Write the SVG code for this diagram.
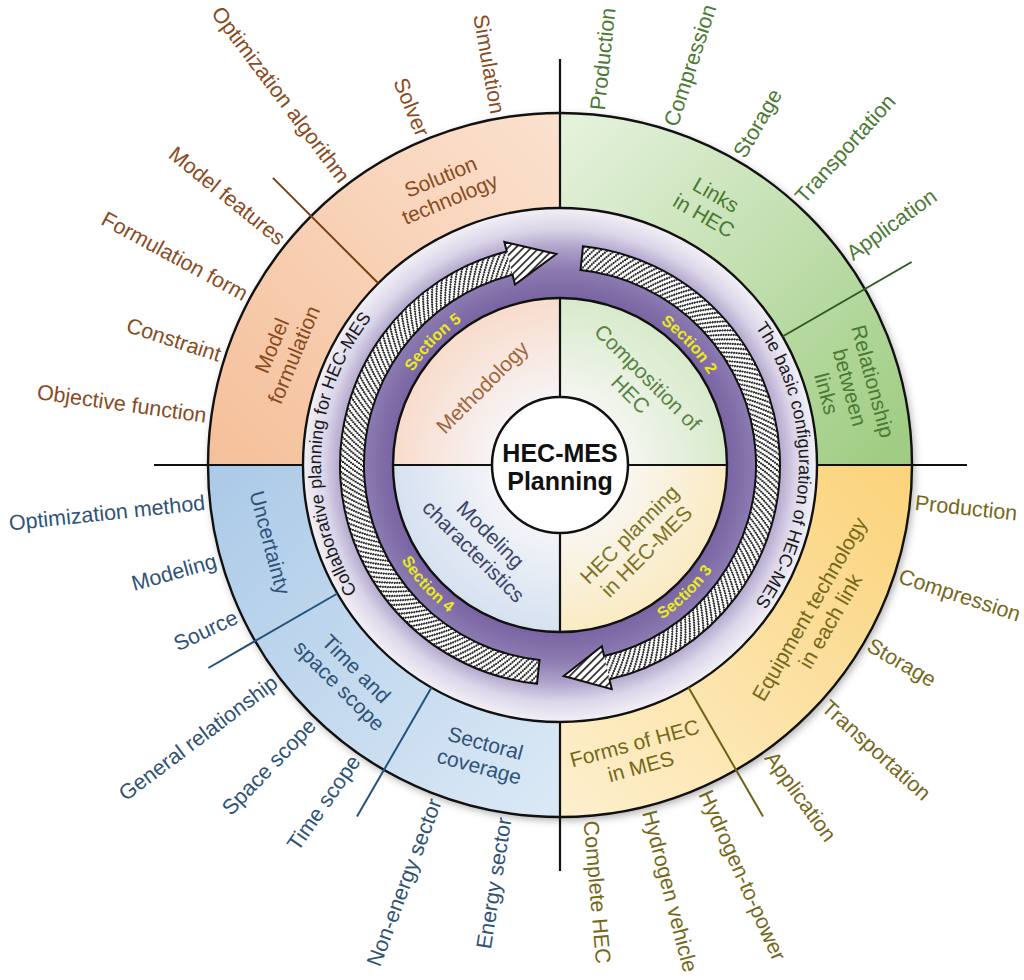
<svg xmlns="http://www.w3.org/2000/svg" xmlns:xlink="http://www.w3.org/1999/xlink" width="1024" height="980" viewBox="0 0 1024 980">
<defs>
<style>
text{font-family:"Liberation Sans",Arial,Helvetica,sans-serif;}
.ol{font-size:21.5px;}
.ql{font-size:21px;text-anchor:middle;}
.org{fill:#8a4b1f;}
.grn{fill:#4a7a33;}
.ylw{fill:#76681a;}
.blu{fill:#2f5378;}
.sec{font-size:16px;font-weight:bold;fill:#eaea1c;}
.ring{font-size:18px;fill:#1a1a1a;}
.blk{fill:none;stroke:#111;stroke-width:2.4;}
.ax{stroke:#111;stroke-width:2.2;}
.hs{fill:none;stroke:#2a2a2a;stroke-width:2.15;stroke-dasharray:1.8 3.7;}
</style>
<filter id="sh" x="-10%" y="-10%" width="125%" height="125%"><feDropShadow dx="2" dy="3" stdDeviation="4" flood-color="#000" flood-opacity="0.35"/></filter>
<linearGradient id="gO" gradientUnits="userSpaceOnUse" x1="540" y1="120" x2="220" y2="440"><stop offset="0" stop-color="#fbe0cd"/><stop offset="1" stop-color="#f5c19c"/></linearGradient>
<linearGradient id="gG" gradientUnits="userSpaceOnUse" x1="580" y1="120" x2="900" y2="440"><stop offset="0" stop-color="#e4f1db"/><stop offset="1" stop-color="#a0cd83"/></linearGradient>
<linearGradient id="gY" gradientUnits="userSpaceOnUse" x1="580" y1="810" x2="900" y2="490"><stop offset="0" stop-color="#fdefcb"/><stop offset="1" stop-color="#fbd47e"/></linearGradient>
<linearGradient id="gB" gradientUnits="userSpaceOnUse" x1="540" y1="810" x2="220" y2="490"><stop offset="0" stop-color="#dae8f5"/><stop offset="1" stop-color="#adcbe8"/></linearGradient>
<radialGradient id="gRing" gradientUnits="userSpaceOnUse" cx="560" cy="465" r="257">
<stop offset="0.64" stop-color="#7662a0"/><stop offset="0.76" stop-color="#8c7ab1"/><stop offset="0.85" stop-color="#b0a4cb"/><stop offset="0.92" stop-color="#dbd5e9"/><stop offset="1" stop-color="#f2f0f6"/></radialGradient>
<radialGradient id="iO" gradientUnits="userSpaceOnUse" cx="560" cy="465" r="167"><stop offset="0.4" stop-color="#f7f3f5"/><stop offset="1" stop-color="#f8dccb"/></radialGradient>
<radialGradient id="iG" gradientUnits="userSpaceOnUse" cx="560" cy="465" r="167"><stop offset="0.4" stop-color="#f4f6f1"/><stop offset="1" stop-color="#d8eacb"/></radialGradient>
<radialGradient id="iY" gradientUnits="userSpaceOnUse" cx="560" cy="465" r="167"><stop offset="0.4" stop-color="#f8f6f0"/><stop offset="1" stop-color="#faebc2"/></radialGradient>
<radialGradient id="iB" gradientUnits="userSpaceOnUse" cx="560" cy="465" r="167"><stop offset="0.4" stop-color="#f3f4f8"/><stop offset="1" stop-color="#d6e1f0"/></radialGradient>
<pattern id="hatch" patternUnits="userSpaceOnUse" width="5.5" height="5.5" patternTransform="rotate(45)"><rect width="5.5" height="5.5" fill="#fff"/><rect width="1.7" height="5.5" fill="#2a2a2a"/></pattern>
<path id="pS5" d="M 391.17 422.91 A 174 174 0 0 1 512.04 297.74"/>
<path id="pS2" d="M 610.87 298.60 A 174 174 0 0 1 729.54 425.86"/>
<path id="pS3" d="M 606.32 644.11 A 185 185 0 0 0 738.27 514.44"/>
<path id="pS4" d="M 379.04 503.46 A 185 185 0 0 0 502.83 640.95"/>
<path id="pL" d="M 466.62 685.00 A 239 239 0 0 1 490.12 236.44"/>
<path id="pR" d="M 641.74 240.41 A 239 239 0 0 1 641.74 689.59"/>
</defs>
<rect width="1024" height="980" fill="#fff"/>

<circle cx="560" cy="465" r="352" fill="#fff" filter="url(#sh)"/>

<g id="outer-quadrants">
<g id="q-methodology-outer"><path d="M 208 465 A 352 352 0 0 1 560 113 L 560 208 A 257 257 0 0 0 303 465 Z" fill="url(#gO)"/></g>
<g id="q-composition-outer"><path d="M 560 113 A 352 352 0 0 1 912 465 L 817 465 A 257 257 0 0 0 560 208 Z" fill="url(#gG)"/></g>
<g id="q-planning-outer"><path d="M 912 465 A 352 352 0 0 1 560 817 L 560 722 A 257 257 0 0 0 817 465 Z" fill="url(#gY)"/></g>
<g id="q-modeling-outer"><path d="M 560 817 A 352 352 0 0 1 208 465 L 303 465 A 257 257 0 0 0 560 722 Z" fill="url(#gB)"/></g>
</g>

<g id="ring">
<circle cx="560" cy="465" r="257" fill="url(#gRing)"/>
</g>

<g id="arrow-left">
<path d="M 537.00 683.79 A 220 220 0 0 1 506.78 251.53 L 504.36 241.83 L 556.32 254.03 L 515.00 284.52 L 512.58 274.82 A 196 196 0 0 0 539.51 659.93 Z" fill="#fff"/>
<g class="hs">
<path pathLength="580" stroke-dashoffset="0" d="M 539.41 660.92 A 197 197 0 0 1 512.34 273.85"/>
<path pathLength="580" stroke-dashoffset="-1.5" d="M 539.20 662.91 A 199 199 0 0 1 511.86 271.91"/>
<path pathLength="580" stroke-dashoffset="-3" d="M 538.99 664.90 A 201 201 0 0 1 511.37 269.97"/>
<path pathLength="580" stroke-dashoffset="-4.5" d="M 538.78 666.89 A 203 203 0 0 1 510.89 268.03"/>
<path pathLength="580" stroke-dashoffset="-6" d="M 538.57 668.88 A 205 205 0 0 1 510.41 266.09"/>
<path pathLength="580" stroke-dashoffset="-7.5" d="M 538.36 670.87 A 207 207 0 0 1 509.92 264.15"/>
<path pathLength="580" stroke-dashoffset="-9" d="M 538.15 672.86 A 209 209 0 0 1 509.44 262.21"/>
<path pathLength="580" stroke-dashoffset="-10.5" d="M 537.94 674.84 A 211 211 0 0 1 508.95 260.27"/>
<path pathLength="580" stroke-dashoffset="-12" d="M 537.74 676.83 A 213 213 0 0 1 508.47 258.33"/>
<path pathLength="580" stroke-dashoffset="-13.5" d="M 537.53 678.82 A 215 215 0 0 1 507.99 256.39"/>
<path pathLength="580" stroke-dashoffset="-15" d="M 537.32 680.81 A 217 217 0 0 1 507.50 254.45"/>
<path pathLength="580" stroke-dashoffset="-16.5" d="M 537.11 682.80 A 219 219 0 0 1 507.02 252.51"/>
</g>
<path d="M 504.36 241.83 L 556.32 254.03 L 515.00 284.52 Z" fill="url(#hatch)"/>
<path d="M 537.00 683.79 A 220 220 0 0 1 506.78 251.53 L 504.36 241.83 L 556.32 254.03 L 515.00 284.52 L 512.58 274.82 A 196 196 0 0 0 539.51 659.93 Z" fill="none" stroke="#111" stroke-width="2"/>
</g>

<g id="arrow-right">
<path d="M 583.00 246.21 A 220 220 0 0 1 609.49 679.36 L 611.74 689.11 L 563.68 675.97 L 601.84 646.23 L 604.09 655.98 A 196 196 0 0 0 580.49 270.07 Z" fill="#fff"/>
<g class="hs">
<path pathLength="580" stroke-dashoffset="0" d="M 580.59 269.08 A 197 197 0 0 1 604.32 656.95"/>
<path pathLength="580" stroke-dashoffset="-1.5" d="M 580.80 267.09 A 199 199 0 0 1 604.77 658.90"/>
<path pathLength="580" stroke-dashoffset="-3" d="M 581.01 265.10 A 201 201 0 0 1 605.22 660.85"/>
<path pathLength="580" stroke-dashoffset="-4.5" d="M 581.22 263.11 A 203 203 0 0 1 605.67 662.80"/>
<path pathLength="580" stroke-dashoffset="-6" d="M 581.43 261.12 A 205 205 0 0 1 606.12 664.75"/>
<path pathLength="580" stroke-dashoffset="-7.5" d="M 581.64 259.13 A 207 207 0 0 1 606.57 666.70"/>
<path pathLength="580" stroke-dashoffset="-9" d="M 581.85 257.14 A 209 209 0 0 1 607.02 668.64"/>
<path pathLength="580" stroke-dashoffset="-10.5" d="M 582.06 255.16 A 211 211 0 0 1 607.47 670.59"/>
<path pathLength="580" stroke-dashoffset="-12" d="M 582.26 253.17 A 213 213 0 0 1 607.92 672.54"/>
<path pathLength="580" stroke-dashoffset="-13.5" d="M 582.47 251.18 A 215 215 0 0 1 608.36 674.49"/>
<path pathLength="580" stroke-dashoffset="-15" d="M 582.68 249.19 A 217 217 0 0 1 608.81 676.44"/>
<path pathLength="580" stroke-dashoffset="-16.5" d="M 582.89 247.21 A 219 219 0 0 1 609.26 678.39"/>
</g>
<path d="M 611.74 689.11 L 563.68 675.97 L 601.84 646.23 Z" fill="url(#hatch)"/>
<path d="M 583.00 246.21 A 220 220 0 0 1 609.49 679.36 L 611.74 689.11 L 563.68 675.97 L 601.84 646.23 L 604.09 655.98 A 196 196 0 0 0 580.49 270.07 Z" fill="none" stroke="#111" stroke-width="2"/>
</g>

<g id="inner-quadrants">
<g id="q-methodology"><path d="M 560 465 L 393 465 A 167 167 0 0 1 560 298 Z" fill="url(#iO)"/></g>
<g id="q-composition"><path d="M 560 465 L 560 298 A 167 167 0 0 1 727 465 Z" fill="url(#iG)"/></g>
<g id="q-planning"><path d="M 560 465 L 727 465 A 167 167 0 0 1 560 632 Z" fill="url(#iY)"/></g>
<g id="q-modeling"><path d="M 560 465 L 560 632 A 167 167 0 0 1 393 465 Z" fill="url(#iB)"/></g>
</g>

<g id="circles">
<circle class="blk" cx="560" cy="465" r="352"/>
<circle class="blk" cx="560" cy="465" r="257"/>
<circle class="blk" cx="560" cy="465" r="167"/>
</g>

<g id="connectors">
<line class="ax" x1="154" y1="465" x2="303" y2="465"/>
<line class="ax" x1="817" y1="465" x2="967" y2="465"/>
<line class="ax" x1="560" y1="59" x2="560" y2="208"/>
<line class="ax" x1="560" y1="722" x2="560" y2="871"/>
<line class="ax" x1="393" y1="465" x2="492" y2="465"/>
<line class="ax" x1="628" y1="465" x2="727" y2="465"/>
<line class="ax" x1="560" y1="298" x2="560" y2="397"/>
<line class="ax" x1="560" y1="533" x2="560" y2="632"/>
<line x1="378.27" y1="283.27" x2="272.91" y2="177.91" stroke="#7b3f10" stroke-width="2"/>
<line x1="782.57" y1="336.5" x2="911.61" y2="262.0" stroke="#2e5a1e" stroke-width="2"/>
<line x1="337.43" y1="593.5" x2="208.39" y2="668.0" stroke="#24527c" stroke-width="2"/>
<line x1="431.5" y1="687.57" x2="357.0" y2="816.61" stroke="#24527c" stroke-width="2"/>
<line x1="688.5" y1="687.57" x2="763.0" y2="816.61" stroke="#6e6214" stroke-width="2"/>
</g>

<g id="center">
<circle cx="560" cy="465" r="68" fill="#fff" stroke="#111" stroke-width="2.5"/>
<text x="560" y="462" text-anchor="middle" font-size="25" font-weight="bold" fill="#111">HEC-MES</text>
<text x="560" y="490" text-anchor="middle" font-size="25" font-weight="bold" fill="#111">Planning</text>
</g>

<g id="inner-labels">
<text class="ql" fill="#a0653a" transform="translate(482.2,387.2) rotate(-45)" y="7.35">Methodology</text>
<text class="ql" fill="#5a8445" transform="translate(639.2,385.8) rotate(45)"><tspan x="0" y="-4.65">Composition of</tspan><tspan x="0" y="19.35">HEC</tspan></text>
<text class="ql" fill="#7d7325" transform="translate(637.8,542.8) rotate(-45)"><tspan x="0" y="-4.65">HEC planning</tspan><tspan x="0" y="19.35">in HEC-MES</tspan></text>
<text class="ql" fill="#3b4668" transform="translate(482.2,542.8) rotate(45)"><tspan x="0" y="-4.65">Modeling</tspan><tspan x="0" y="19.35">characteristics</tspan></text>
</g>

<g id="section-labels">
<text class="sec"><textPath xlink:href="#pS5" href="#pS5" startOffset="50%" text-anchor="middle">Section 5</textPath></text>
<text class="sec"><textPath xlink:href="#pS2" href="#pS2" startOffset="50%" text-anchor="middle">Section 2</textPath></text>
<text class="sec"><textPath xlink:href="#pS3" href="#pS3" startOffset="50%" text-anchor="middle">Section 3</textPath></text>
<text class="sec"><textPath xlink:href="#pS4" href="#pS4" startOffset="50%" text-anchor="middle">Section 4</textPath></text>
</g>

<g id="ring-labels">
<text class="ring"><textPath xlink:href="#pL" href="#pL" startOffset="50%" text-anchor="middle">Collaborative planning for HEC-MES</textPath></text>
<text class="ring"><textPath xlink:href="#pR" href="#pR" startOffset="50%" text-anchor="middle">The basic configuration of HEC-MES</textPath></text>
</g>

<g id="outer-ring-labels">
<text class="ql org" transform="translate(445.2,187.8) rotate(-22.5)"><tspan x="0" y="-4.65">Solution</tspan><tspan x="0" y="19.35">technology</tspan></text>
<text class="ql org" transform="translate(282.8,350.2) rotate(-67.5)"><tspan x="0" y="-4.65">Model</tspan><tspan x="0" y="19.35">formulation</tspan></text>
<text class="ql grn" transform="translate(710,205.2) rotate(30)"><tspan x="0" y="-4.65">Links</tspan><tspan x="0" y="19.35">in HEC</tspan></text>
<text class="ql grn" transform="translate(849.8,387.4) rotate(75)"><tspan x="0" y="-16.65">Relationship</tspan><tspan x="0" y="7.35">between</tspan><tspan x="0" y="31.35">links</tspan></text>
<text class="ql ylw" transform="translate(819.8,615) rotate(-60)"><tspan x="0" y="-4.65">Equipment technology</tspan><tspan x="0" y="19.35">in each link</tspan></text>
<text class="ql ylw" transform="translate(637.6,754.8) rotate(-15)"><tspan x="0" y="-4.65">Forms of HEC</tspan><tspan x="0" y="19.35">in MES</tspan></text>
<text class="ql blu" transform="translate(482.4,754.8) rotate(15)"><tspan x="0" y="-4.65">Sectoral</tspan><tspan x="0" y="19.35">coverage</tspan></text>
<text class="ql blu" transform="translate(347.9,677.1) rotate(45)"><tspan x="0" y="-4.65">Time and</tspan><tspan x="0" y="19.35">space scope</tspan></text>
<text class="ql blu" transform="translate(270.2,542.6) rotate(75)" y="7.35">Uncertainty</text>
</g>

<g id="outer-labels">
<text class="ol grn" transform="translate(597.32,109.96) rotate(-84)" dy="0.35em">Production</text>
<text class="ol grn" transform="translate(670.32,125.47) rotate(-72)" dy="0.35em">Compression</text>
<text class="ol grn" transform="translate(738.50,155.83) rotate(-60)" dy="0.35em">Storage</text>
<text class="ol grn" transform="translate(798.88,199.70) rotate(-48)" dy="0.35em">Transportation</text>
<text class="ol grn" transform="translate(848.82,255.16) rotate(-36)" dy="0.35em">Application</text>

<text class="ol ylw" transform="translate(915.04,502.32) rotate(6)" dy="0.35em">Production</text>
<text class="ol ylw" transform="translate(899.53,575.32) rotate(18)" dy="0.35em">Compression</text>
<text class="ol ylw" transform="translate(869.17,643.50) rotate(30)" dy="0.35em">Storage</text>
<text class="ol ylw" transform="translate(825.30,703.88) rotate(42)" dy="0.35em">Transportation</text>
<text class="ol ylw" transform="translate(769.84,753.82) rotate(54)" dy="0.35em">Application</text>
<text class="ol ylw" transform="translate(705.21,791.14) rotate(66)" dy="0.35em">Hydrogen-to-power</text>
<text class="ol ylw" transform="translate(649.39,810.63) rotate(75.5)" dy="0.35em">Hydrogen vehicle</text>
<text class="ol ylw" transform="translate(591.11,820.64) rotate(85)" dy="0.35em">Complete HEC</text>

<text class="ol org" text-anchor="end" transform="translate(498.01,113.42) rotate(80)" dy="0.35em">Simulation</text>
<text class="ol org" text-anchor="end" transform="translate(423.38,135.18) rotate(67.5)" dy="0.35em">Solver</text>
<text class="ol org" text-anchor="end" font-size="21" transform="translate(345.15,179.89) rotate(53)" dy="0.35em">Optimization algorithm</text>
<text class="ol org" text-anchor="end" transform="translate(282.56,240.33) rotate(39)" dy="0.35em">Model features</text>
<text class="ol org" text-anchor="end" transform="translate(246.26,294.65) rotate(28.5)" dy="0.35em">Formulation form</text>
<text class="ol org" text-anchor="end" transform="translate(220.47,354.68) rotate(18)" dy="0.35em">Constraint</text>
<text class="ol org" text-anchor="end" transform="translate(206.47,415.31) rotate(8)" dy="0.35em">Objective function</text>

<text class="ol blu" text-anchor="end" transform="translate(204.96,502.32) rotate(-6)" dy="0.35em">Optimization method</text>
<text class="ol blu" text-anchor="end" transform="translate(215.98,560.40) rotate(-15.5)" dy="0.35em">Modeling</text>
<text class="ol blu" text-anchor="end" transform="translate(236.45,615.87) rotate(-25)" dy="0.35em">Source</text>
<text class="ol blu" text-anchor="end" transform="translate(274.89,679.85) rotate(-37)" dy="0.35em">General relationship</text>
<text class="ol blu" text-anchor="end" transform="translate(312.01,721.80) rotate(-46)" dy="0.35em">Space scope</text>
<text class="ol blu" text-anchor="end" transform="translate(355.23,757.44) rotate(-55)" dy="0.35em">Time scope</text>
<text class="ol blu" text-anchor="end" transform="translate(434.98,799.39) rotate(-69.5)" dy="0.35em">Non-energy sector</text>
<text class="ol blu" text-anchor="end" transform="translate(504.15,817.60) rotate(-81)" dy="0.35em">Energy sector</text>
</g>
</svg>
